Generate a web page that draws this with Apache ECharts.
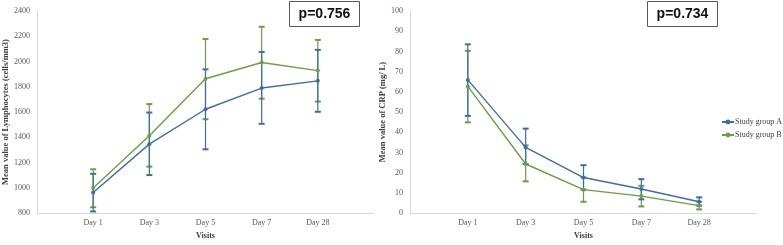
<!DOCTYPE html>
<html>
<head>
<meta charset="utf-8">
<script src="https://cdn.jsdelivr.net/npm/echarts@6/dist/echarts.min.js"></script>
<style>
html, body { margin: 0; padding: 0; background: #fff; }
#main { width: 783px; height: 245px; }
</style>
</head>
<body>
<div id="main"></div>
<script>
// visit categories (empty slot on both ends, like the Excel axis)
var visits = ['Day 1', 'Day 3', 'Day 5', 'Day 7', 'Day 28'];

// lymphocytes (cells/mm3)
var lymA = [963, 1346, 1622, 1790, 1847];
var lymALow = [813, 1101, 1305, 1507, 1602];
var lymAHigh = [1111, 1596, 1938, 2076, 2092];
var lymB = [999, 1413, 1864, 1992, 1928];
var lymBLow = [846, 1168, 1543, 1706, 1683];
var lymBHigh = [1147, 1663, 2178, 2275, 2171];

// CRP (mg/L)
var crpA = [65.9, 32.5, 17.6, 11.9, 5.6];
var crpALow = [48.1, 24.3, 11.6, 6.8, 3.7];
var crpAHigh = [83.5, 41.8, 23.7, 16.8, 7.8];
var crpB = [62.7, 24.3, 11.6, 8.4, 3.7];
var crpBLow = [44.9, 15.7, 5.6, 3.3, 1.8];
var crpBHigh = [80.3, 33.5, 17.6, 13.5, 5.6];

var pLeft = 'p=0.756';
var pRight = 'p=0.734';

var blue = '#3b6ea5';
var green = '#6b9f3f';
var serif = 'Liberation Serif';

var axisData = [''].concat(visits).concat(['']);

function pts(arr) {
	var out = [];
	for (var i = 0; i < arr.length; i++) {
		out.push([i + 1, arr[i]]);
	}
	return out;
}

function bars(low, high) {
	var out = [];
	for (var i = 0; i < low.length; i++) {
		out.push([i + 1, low[i], high[i]]);
	}
	return out;
}

function errorItem(color) {
	return function(params, api) {
		var lo = api.coord([api.value(0), api.value(1)]);
		var hi = api.coord([api.value(0), api.value(2)]);
		var w = 3;
		var st = { stroke: color, lineWidth: 1.2 };
		var cap = { stroke: color, lineWidth: 2 };
		return {
			type : 'group',
			children : [
				{ type : 'line', shape : { x1 : lo[0], y1 : lo[1], x2 : hi[0], y2 : hi[1] }, style : st },
				{ type : 'line', shape : { x1 : lo[0] - w, y1 : lo[1], x2 : lo[0] + w, y2 : lo[1] }, style : cap },
				{ type : 'line', shape : { x1 : hi[0] - w, y1 : hi[1], x2 : hi[0] + w, y2 : hi[1] }, style : cap }
			]
		};
	};
}

function xAx(idx) {
	return {
		type : 'category',
		gridIndex : idx,
		data : axisData,
		boundaryGap : false,
		axisLine : { lineStyle : { color : '#d9d9d9', width : 1 } },
		axisTick : { show : false },
		axisLabel : { fontFamily : serif, fontSize : 8, color : '#595959', margin : 6, interval : 0 },
		name : 'Visits',
		nameLocation : 'middle',
		nameGap : 16,
		nameTextStyle : { fontFamily : serif, fontSize : 8, fontWeight : 'bold', color : '#404040' },
		splitLine : { show : false }
	};
}

function yAx(idx, min, max, step, title, gap) {
	return {
		type : 'value',
		gridIndex : idx,
		min : min,
		max : max,
		interval : step,
		axisLine : { show : true, lineStyle : { color : '#d9d9d9', width : 1 } },
		axisTick : { show : false },
		splitLine : { show : false },
		axisLabel : {
			fontFamily : serif, fontSize : 8, color : '#595959', margin : 7,
			formatter : function(v) { return String(v); }
		},
		name : title,
		nameLocation : 'middle',
		nameGap : gap,
		nameTextStyle : { fontFamily : serif, fontSize : 8.5, fontWeight : 'bold', color : '#404040' }
	};
}

function lineSeries(name, data, color, idx) {
	return {
		name : name,
		type : 'line',
		xAxisIndex : idx,
		yAxisIndex : idx,
		data : pts(data),
		symbol : 'circle',
		symbolSize : 4,
		lineStyle : { color : color, width : 1.4 },
		itemStyle : { color : color },
		z : 3
	};
}

function errSeries(low, high, color, idx) {
	return {
		type : 'custom',
		xAxisIndex : idx,
		yAxisIndex : idx,
		data : bars(low, high),
		renderItem : errorItem(color),
		z : 2
	};
}

function pBox(x, text) {
	return {
		type : 'group',
		left : x,
		top : 1,
		children : [
			{ type : 'rect', shape : { x : 0, y : 0, width : 70, height : 25 }, style : { fill : '#fff', stroke : '#595959', lineWidth : 1 } },
			{ type : 'text', x : 35, y : 13, style : { text : text, fill : '#111', font : 'bold 14px "Liberation Sans"', align : 'center', verticalAlign : 'middle' } }
		]
	};
}

var myChart = echarts.init(document.getElementById('main'));
var option = {
	animation : false,
	backgroundColor : '#fff',
	grid : [
		{ left : 32, top : 11, width : 342, height : 209 },
		{ left : 410, top : 11, width : 347, height : 210 }
	],
	legend : {
		orient : 'vertical',
		left : 721,
		top : 118,
		padding : 0,
		itemWidth : 12,
		itemHeight : 6,
		itemGap : 5,
		data : [ 'Study group A', 'Study group B' ],
		textStyle : { fontFamily : serif, fontSize : 8, color : '#404040', padding : [ 0, 0, 0, -4 ] }
	},
	xAxis : [ xAx(0), xAx(1) ],
	yAxis : [
		yAx(0, 800, 2400, 200, 'Mean value of Lymphocytes (cells/mm3)', 27),
		yAx(1, 0, 100, 10, 'Mean value of CRP (mg/ L)', 23)
	],
	series : [
		errSeries(lymBLow, lymBHigh, green, 0),
		errSeries(lymALow, lymAHigh, blue, 0),
		lineSeries('Study group A', lymA, blue, 0),
		lineSeries('Study group B', lymB, green, 0),
		errSeries(crpBLow, crpBHigh, green, 1),
		errSeries(crpALow, crpAHigh, blue, 1),
		lineSeries('Study group A', crpA, blue, 1),
		lineSeries('Study group B', crpB, green, 1)
	],
	graphic : [ pBox(289, pLeft), pBox(647, pRight) ]
};
myChart.setOption(option);
</script>
</body>
</html>
